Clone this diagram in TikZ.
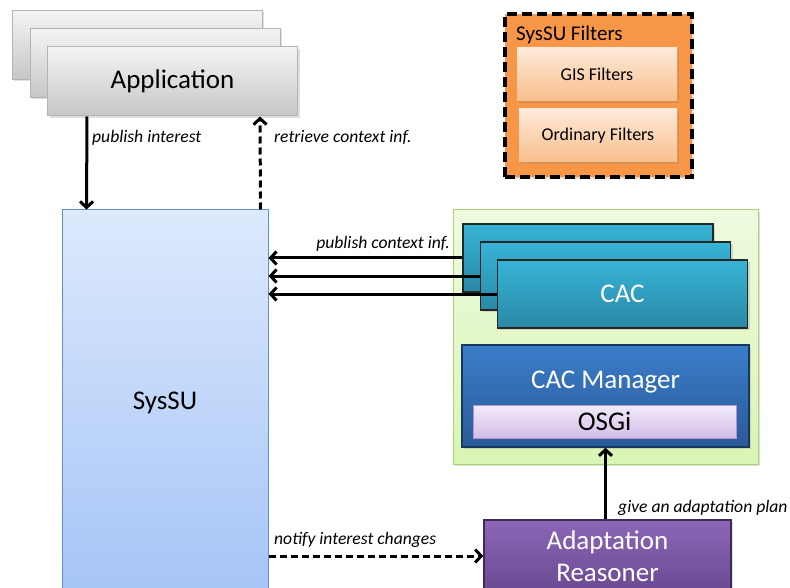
\documentclass[tikz,border=0pt]{standalone}
\usepackage{fontspec}
\setmainfont{Carlito}
\usetikzlibrary{arrows.meta,positioning,shadows}

\definecolor{apptop}{HTML}{F4F4F4}
\definecolor{appbot}{HTML}{C6C6C6}
\definecolor{appline}{HTML}{B4B4B4}
\definecolor{systop}{HTML}{DDE9FC}
\definecolor{sysbot}{HTML}{A5C4F7}
\definecolor{sysline}{HTML}{5F8FD0}
\definecolor{fltfill}{HTML}{F79646}
\definecolor{flttop}{HTML}{FDEADA}
\definecolor{fltbot}{HTML}{F9BE8C}
\definecolor{grntop}{HTML}{EEFADF}
\definecolor{grnbot}{HTML}{D9F5B4}
\definecolor{grnline}{HTML}{A9D273}
\definecolor{cactop}{HTML}{37B4D6}
\definecolor{cacbot}{HTML}{2A88A6}
\definecolor{mgrtop}{HTML}{3B7DCA}
\definecolor{mgrbot}{HTML}{2A5A98}
\definecolor{mgrline}{HTML}{17375E}
\definecolor{osgtop}{HTML}{F3EBFA}
\definecolor{osgbot}{HTML}{D3BDE8}
\definecolor{osgline}{HTML}{B092CC}
\definecolor{artop}{HTML}{8C66B6}
\definecolor{arbot}{HTML}{6A4A92}
\definecolor{arline}{HTML}{3F2B5A}

\newcommand\boxfont{\fontsize{27}{32}\selectfont}
\newcommand\titlefont{\fontsize{21}{24}\selectfont}
\newcommand\fltfont{\fontsize{18}{21}\selectfont}
\newcommand\lblfont{\fontsize{17.6}{20}\itshape\selectfont}

\tikzset{
  shad/.style={drop shadow={opacity=0.25,shadow xshift=2pt,shadow yshift=-2pt}},
  appbox/.style={rectangle,draw=appline,line width=1pt,top color=apptop,bottom color=appbot,
    minimum width=250pt,minimum height=69pt,font=\boxfont,shad},
  cacbox/.style={rectangle,draw=black!85,line width=1.5pt,top color=cactop,bottom color=cacbot,
    minimum width=250pt,minimum height=68pt,font=\boxfont,text=white,shad},
  fltbox/.style={rectangle,draw=none,top color=flttop,bottom color=fltbot,
    minimum width=160pt,minimum height=53pt,font=\fltfont,shad},
  lbl/.style={inner sep=2pt,font=\lblfont},
  arr/.style={line width=3pt,-{Straight Barb[length=6pt,width=13pt]}},
  dsh/.style={dash pattern=on 7pt off 4pt}
}

\begin{document}
\begin{tikzpicture}[x=1pt,y=-1pt]
\useasboundingbox (0,0) rectangle (790,588);

% applications
\node[appbox] (app1) at (137,45) {};
\node[appbox] (app2) at (155,63) {};
\node[appbox] (app) at (172.5,81.5) {Application};

% SysSU
\node[rectangle,draw=sysline,line width=1pt,top color=systop,bottom color=sysbot,
  minimum width=206pt,minimum height=385pt,font=\boxfont] (sys) at (165,402.5) {SysSU};

% filters
\node[rectangle,draw=black,fill=fltfill,line width=3.5pt,dash pattern=on 10pt off 5pt,
  minimum width=187pt,minimum height=163pt,shad] (flt) at (598.5,95.5) {};
\node[anchor=base west,inner sep=0pt,font=\titlefont] (flt-t) at (516,41) {SysSU Filters};
\node[fltbox] (gis) at (597,74.5) {GIS Filters};
\node[fltbox,minimum width=158pt] (ord) at (598,135.5) {Ordinary Filters};

% CAC container
\node[rectangle,draw=grnline,line width=1pt,top color=grntop,bottom color=grnbot,
  minimum width=305pt,minimum height=254pt,shad] (grn) at (605.5,337) {};
\node[cacbox] (cac1) at (588,258) {};
\node[cacbox] (cac2) at (605.5,276) {};
\node[cacbox] (cac3) at (622.5,294) {CAC};

\node[rectangle,draw=mgrline,line width=1.5pt,top color=mgrtop,bottom color=mgrbot,
  minimum width=287pt,minimum height=102pt,shad] (mgr) at (605.5,396) {};
\node[font=\boxfont,text=white] (mgr-t) at (605.5,382) {CAC Manager};
\node[rectangle,draw=osgline,line width=1pt,top color=osgtop,bottom color=osgbot,
  minimum width=263pt,minimum height=33pt,font=\boxfont] (osgi) at (604.5,421.5) {OSGi};

% reasoner
\node[rectangle,draw=arline,line width=1.5pt,top color=artop,bottom color=arbot,
  minimum width=247pt,minimum height=72pt,font=\boxfont,text=white,align=center,shad]
  (ar) at (607.5,556) {Adaptation\\Reasoner};

% connectors
\draw[arr] ([xshift=40pt]app.south west) -- ([xshift=25pt]sys.north west);
\draw[arr,dsh] ([xshift=-8pt]sys.north east) -- ([xshift=-38pt]app.south east);
\node[lbl,anchor=west] (pi-l) at (90,138) {publish interest};
\node[lbl,anchor=west] (rc-l) at (272,137) {retrieve context inf.};

\draw[arr] (cac1.west) -- (cac1.west -| sys.east);
\draw[arr] (cac2.west) -- (cac2.west -| sys.east);
\draw[arr] (cac3.west) -- (cac3.west -| sys.east);
\node[lbl,anchor=east] (pc-l) at (452,244) {publish context inf.};

\draw[arr] (mgr.south |- ar.north) -- (mgr.south);
\node[lbl,anchor=west] (ga-l) at (616,508) {give an adaptation plan};

\draw[arr,dsh] (ar.west -| sys.east) -- (ar.west);
\node[lbl,anchor=west] (ni-l) at (272,540) {notify interest changes};
\end{tikzpicture}
\end{document}
